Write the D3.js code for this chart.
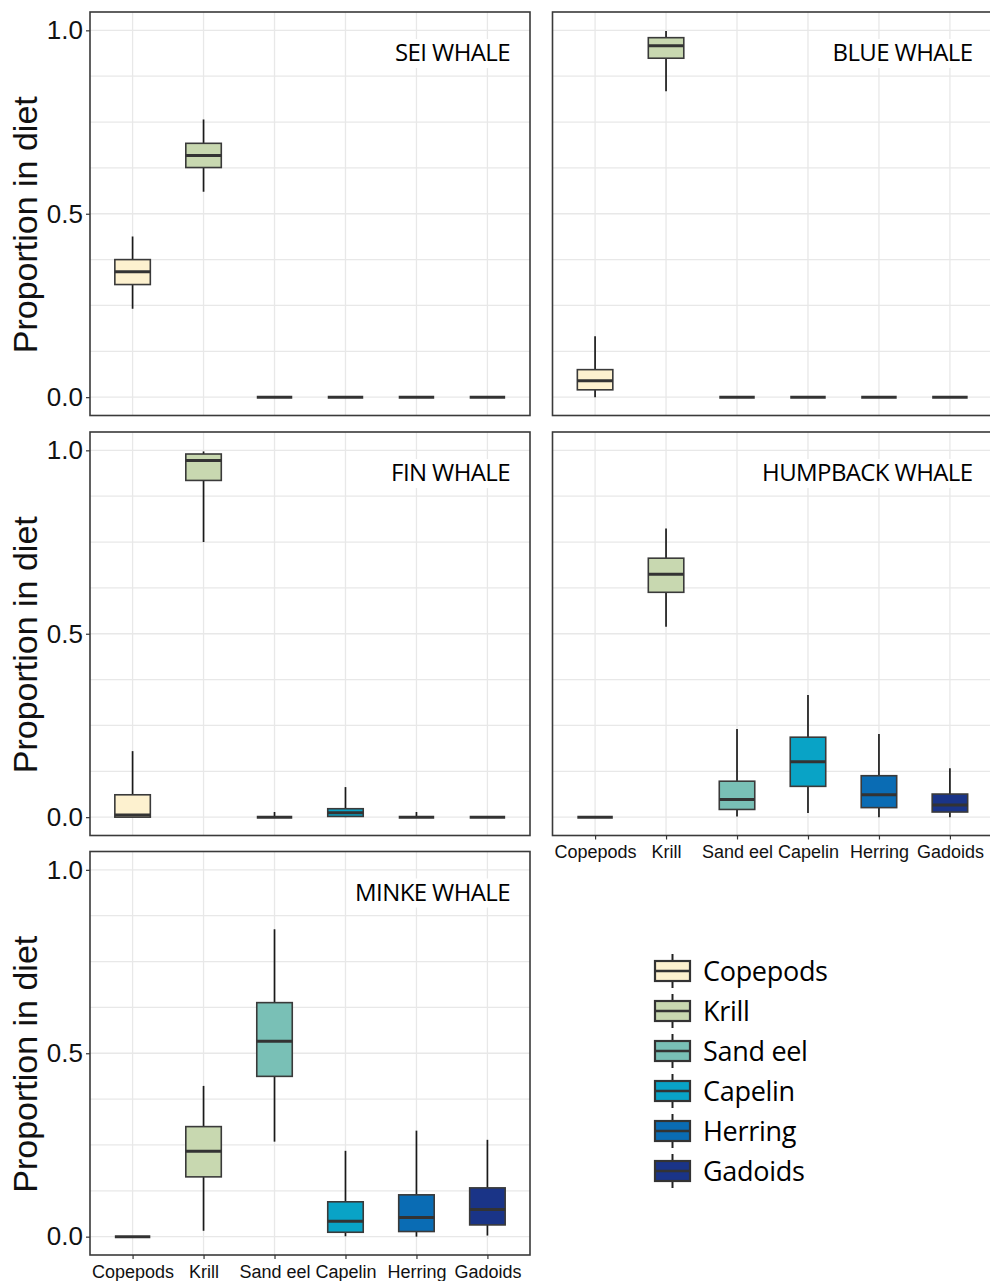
<!DOCTYPE html>
<html>
<head>
<meta charset="utf-8">
<script src="https://cdn.jsdelivr.net/npm/d3@7"></script>
<style>
  body { margin: 0; background: #fff; }
  svg { display: block; }
</style>
</head>
<body>
<svg id="chart" width="990" height="1281"></svg>
<script>
// prey categories and their fills
const preyTypes = ["Copepods", "Krill", "Sand eel", "Capelin", "Herring", "Gadoids"];
const preyColors = ["#fdf1cf", "#c8d8b0", "#79c0b6", "#09a3c6", "#0a6cb4", "#1a3487"];

// each row: [min, q1, median, q3, max] per prey type
const seiWhale = [
  [0.241, 0.307, 0.342, 0.375, 0.438],
  [0.560, 0.626, 0.659, 0.692, 0.757],
  [0, 0, 0, 0, 0],
  [0, 0, 0, 0, 0],
  [0, 0, 0, 0, 0],
  [0, 0, 0, 0, 0]
];
const blueWhale = [
  [0.0, 0.020, 0.045, 0.075, 0.166],
  [0.834, 0.924, 0.958, 0.980, 0.998],
  [0, 0, 0, 0, 0],
  [0, 0, 0, 0, 0],
  [0, 0, 0, 0, 0],
  [0, 0, 0, 0, 0]
];
const finWhale = [
  [0.0, 0.0, 0.006, 0.061, 0.180],
  [0.750, 0.918, 0.972, 0.990, 0.997],
  [0, 0, 0, 0, 0.014],
  [0.0, 0.002, 0.012, 0.023, 0.082],
  [0, 0, 0, 0, 0.014],
  [0, 0, 0, 0, 0]
];
const humpbackWhale = [
  [0, 0, 0, 0, 0],
  [0.519, 0.613, 0.662, 0.706, 0.787],
  [0.002, 0.021, 0.048, 0.098, 0.240],
  [0.011, 0.084, 0.151, 0.218, 0.333],
  [0.0, 0.026, 0.061, 0.113, 0.227],
  [0.0, 0.014, 0.033, 0.063, 0.133]
];
const minkeWhale = [
  [0, 0, 0, 0, 0],
  [0.016, 0.163, 0.233, 0.300, 0.411],
  [0.259, 0.437, 0.533, 0.638, 0.838],
  [0.001, 0.012, 0.042, 0.095, 0.234],
  [0.0, 0.014, 0.052, 0.114, 0.289],
  [0.003, 0.032, 0.074, 0.133, 0.264]
];

const yTicks = [0, 0.5, 1.0];
const yGrid = [0, 0.125, 0.25, 0.375, 0.5, 0.625, 0.75, 0.875, 1.0];

const panels = [
  { title: "SEI WHALE", data: seiWhale, col: 0, row: 0, yAxis: true, xAxis: false },
  { title: "BLUE WHALE", data: blueWhale, col: 1, row: 0, yAxis: false, xAxis: false },
  { title: "FIN WHALE", data: finWhale, col: 0, row: 1, yAxis: true, xAxis: false },
  { title: "HUMPBACK WHALE", data: humpbackWhale, col: 1, row: 1, yAxis: false, xAxis: true },
  { title: "MINKE WHALE", data: minkeWhale, col: 0, row: 2, yAxis: true, xAxis: true }
];

const colLeft = [90, 552.5];
const rowTop = [12, 432, 851.5];
const panelW = 440;
const panelH = 403.5;

const svg = d3.select("#chart");
const axisFont = "'Liberation Sans', Arial, sans-serif";
const titleFont = "'Open Sans', sans-serif";

panels.forEach(p => {
  const left = colLeft[p.col], top = rowTop[p.row];
  const x = d3.scalePoint().domain(preyTypes).range([left, left + panelW]).padding(0.6);
  const y = d3.scaleLinear().domain([-0.05, 1.05]).range([top + panelH, top]);
  const bw = x.step() * 0.5;

  const g = svg.append("g");

  // grid
  g.selectAll(".hgrid").data(yGrid).enter().append("line")
    .attr("x1", left).attr("x2", left + panelW)
    .attr("y1", d => y(d)).attr("y2", d => y(d))
    .attr("stroke", "#e8e8e8").attr("stroke-width", 1.3);
  g.selectAll(".vgrid").data(preyTypes).enter().append("line")
    .attr("x1", d => x(d)).attr("x2", d => x(d))
    .attr("y1", top).attr("y2", top + panelH)
    .attr("stroke", "#e8e8e8").attr("stroke-width", 1.3);

  // title with white backing
  const t = g.append("text")
    .attr("x", left + panelW - 20)
    .attr("y", top + 49)
    .attr("text-anchor", "end")
    .attr("font-family", titleFont)
    .attr("font-size", 24)
    .attr("letter-spacing", -0.6)
    .attr("fill", "#000")
    .text(p.title);
  const bb = t.node().getBBox();
  g.insert("rect", "text")
    .attr("x", bb.x - 4).attr("y", bb.y + 4)
    .attr("width", bb.width + 8).attr("height", bb.height - 4)
    .attr("fill", "#fff");

  // boxes
  const boxes = g.selectAll(".box").data(p.data).enter().append("g");
  boxes.append("line")
    .attr("x1", (d, i) => x(preyTypes[i])).attr("x2", (d, i) => x(preyTypes[i]))
    .attr("y1", d => y(d[3])).attr("y2", d => y(d[4]))
    .attr("stroke", "#1a1a1a").attr("stroke-width", 1.7);
  boxes.append("line")
    .attr("x1", (d, i) => x(preyTypes[i])).attr("x2", (d, i) => x(preyTypes[i]))
    .attr("y1", d => y(d[0])).attr("y2", d => y(d[1]))
    .attr("stroke", "#1a1a1a").attr("stroke-width", 1.7);
  boxes.append("rect")
    .attr("x", (d, i) => x(preyTypes[i]) - bw / 2)
    .attr("y", d => y(d[3]))
    .attr("width", bw)
    .attr("height", d => y(d[1]) - y(d[3]))
    .attr("fill", (d, i) => preyColors[i])
    .attr("stroke", "#3a3a3a").attr("stroke-width", 1.6);
  boxes.append("line")
    .attr("x1", (d, i) => x(preyTypes[i]) - bw / 2).attr("x2", (d, i) => x(preyTypes[i]) + bw / 2)
    .attr("y1", d => y(d[2])).attr("y2", d => y(d[2]))
    .attr("stroke", "#333").attr("stroke-width", 3);

  // frame
  g.append("rect")
    .attr("x", left).attr("y", top)
    .attr("width", panelW).attr("height", panelH)
    .attr("fill", "none").attr("stroke", "#3a3a3a").attr("stroke-width", 1.6);

  if (p.yAxis) {
    const ya = g.append("g")
      .attr("transform", "translate(" + left + ",0)")
      .call(d3.axisLeft(y).tickValues(yTicks).tickSize(4).tickPadding(3).tickFormat(d3.format(".1f")));
    ya.select(".domain").remove();
    ya.selectAll("line").attr("stroke", "#333").attr("stroke-width", 1.2);
    ya.selectAll("text").attr("font-family", axisFont).attr("font-size", 26).attr("fill", "#111");

    g.append("text")
      .attr("transform", "translate(37," + (top + panelH / 2 + 11) + ") rotate(-90)")
      .attr("text-anchor", "middle")
      .attr("font-family", axisFont)
      .attr("font-size", 34)
      .attr("fill", "#111")
      .text("Proportion in diet");
  }

  if (p.xAxis) {
    const xa = g.append("g")
      .attr("transform", "translate(0," + (top + panelH) + ")")
      .call(d3.axisBottom(x).tickSize(4).tickPadding(6));
    xa.select(".domain").remove();
    xa.selectAll("line").attr("stroke", "#333").attr("stroke-width", 1.2);
    xa.selectAll("text").attr("font-family", axisFont).attr("font-size", 18).attr("fill", "#111");
  }
});

// legend
const legend = svg.append("g");
const ly = d3.scalePoint().domain(preyTypes).range([971, 1171]);
const keyX = 672.5, keyW = 35, keyH = 20;
const items = legend.selectAll(".item").data(preyTypes).enter().append("g");
items.append("line")
  .attr("x1", keyX).attr("x2", keyX)
  .attr("y1", d => ly(d) - 17).attr("y2", d => ly(d) + 17)
  .attr("stroke", "#222").attr("stroke-width", 2);
items.append("rect")
  .attr("x", keyX - keyW / 2).attr("y", d => ly(d) - keyH / 2)
  .attr("width", keyW).attr("height", keyH)
  .attr("fill", (d, i) => preyColors[i])
  .attr("stroke", "#333").attr("stroke-width", 2.2);
items.append("line")
  .attr("x1", keyX - keyW / 2).attr("x2", keyX + keyW / 2)
  .attr("y1", d => ly(d)).attr("y2", d => ly(d))
  .attr("stroke", "#333").attr("stroke-width", 2.6);
items.append("text")
  .attr("x", 703)
  .attr("y", d => ly(d) + 10)
  .attr("font-family", titleFont)
  .attr("font-size", 27)
  .attr("letter-spacing", -0.3)
  .attr("fill", "#000")
  .text(d => d);
</script>
</body>
</html>
